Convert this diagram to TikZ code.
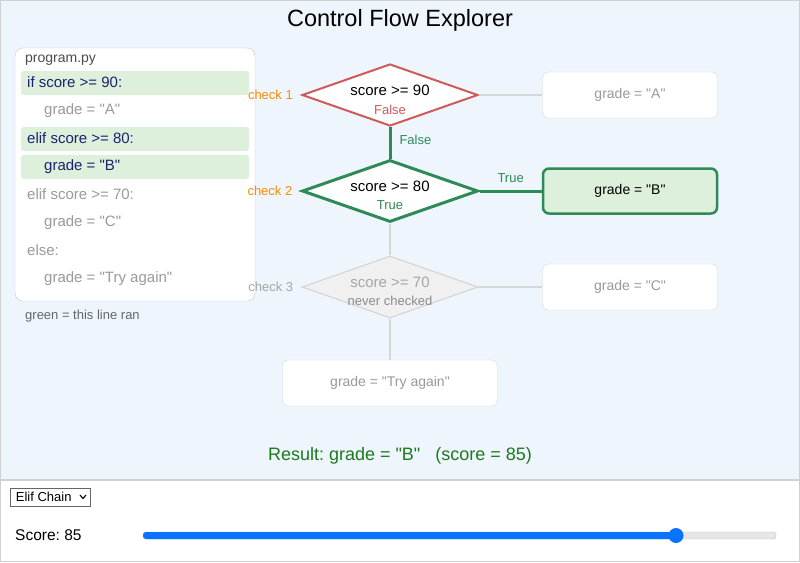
\documentclass[tikz,border=0pt]{standalone}
\usepackage{fontspec}
\newfontfamily\uifont{Liberation Sans}
\usetikzlibrary{shapes.geometric,positioning}
\definecolor{pagebg}{HTML}{EEF5FD}
\definecolor{frameln}{HTML}{D0D0D0}
\definecolor{boxline}{HTML}{D6D6D6}
\definecolor{panelln}{HTML}{C8C8C8}
\definecolor{ranfill}{HTML}{DDF0DC}
\definecolor{navytext}{HTML}{1C226E}
\definecolor{dimtext}{HTML}{9A9A9A}
\definecolor{falsered}{HTML}{D05A5A}
\definecolor{truegreen}{HTML}{2E8B57}
\definecolor{checkorange}{HTML}{FF8C00}
\definecolor{resultgreen}{HTML}{1D7A1D}
\definecolor{sliderblue}{HTML}{0B74FF}
\definecolor{trackgray}{HTML}{E6E6E6}
\newcommand{\fs}[1]{\fontsize{#1}{#1}\selectfont}

\begin{document}
\uifont\frenchspacing
\begin{tikzpicture}[x=1pt,y=-1pt,
  dia/.style={diamond, draw, fill=white, minimum width=176pt, minimum height=62pt, inner sep=0pt},
  outbox/.style={draw=boxline, fill=white, rounded corners=6pt, minimum width=175pt, minimum height=46pt, text=dimtext, font=\fs{14}},
  codeln/.style={anchor=west, inner sep=0pt, font=\fs{15}},
  ranrow/.style={fill=ranfill, rounded corners=3pt},
  chk/.style={inner sep=0pt, font=\fs{13}, text=checkorange},
  dtxt/.style={inner sep=0pt, font=\fs{15}},
  lbl/.style={inner sep=0pt, font=\fs{13}},
  idle/.style={draw=boxline, line width=1.2pt},
  hot/.style={draw=truegreen, line width=3pt}]
\useasboundingbox (0,0) rectangle (800,562);

% page areas
\fill[pagebg] (0,0) rectangle (800,480);
\fill[white] (0,480) rectangle (800,562);
\draw[frameln, line width=2pt] (0,480) -- (800,480);
\draw[frameln] (0.5,0.5) rectangle (799.5,561.5);

\node[font=\fs{23.5}, inner sep=0pt] (title) at (400,20.5) {Control Flow Explorer};

% code panel
\draw[panelln, fill=white, rounded corners=8pt] (15,48) rectangle (255,301);
\node[anchor=west, inner sep=0pt, font=\fs{14}, text=black!70] (fname) at (25,60.5) {program.py};
\fill[ranrow] (21,71) rectangle (249,95);
\fill[ranrow] (21,127) rectangle (249,151);
\fill[ranrow] (21,155) rectangle (249,179);
\node[codeln, text=navytext] (l1) at (27,82.5) {if score >= 90:};
\node[codeln, text=dimtext] (l2) at (44,111) {grade = "A"};
\node[codeln, text=navytext] (l3) at (27,138.5) {elif score >= 80:};
\node[codeln, text=navytext] (l4) at (44,167) {grade = "B"};
\node[codeln, text=dimtext] (l5) at (27,194) {elif score >= 70:};
\node[codeln, text=dimtext] (l6) at (44,223) {grade = "C"};
\node[codeln, text=dimtext] (l7) at (27,250) {else:};
\node[codeln, text=dimtext] (l8) at (44,279) {grade = "Try again"};
\node[anchor=west, inner sep=0pt, font=\fs{13}, text=black!60] (note) at (25,316.5) {green = this line ran};

% decisions
\node[dia, draw=falsered, line width=2pt] (d1) at (390,95) {};
\node[dia, draw=truegreen, line width=3pt] (d2) at (390,191) {};
\node[dia, draw=boxline, fill=black!6, line width=1.2pt] (d3) at (390,287) {};
\node[dtxt] (q1) at (390,90) {score >= 90};
\node[lbl, text=falsered] (a1) at (390,109.5) {False};
\node[dtxt] (q2) at (390,186) {score >= 80};
\node[lbl, text=truegreen] (a2) at (390,205.5) {True};
\node[dtxt, text=black!35] (q3) at (390,282) {score >= 70};
\node[lbl, text=black!45] (a3) at (390,301) {never checked};
\node[chk, left=8pt of d1] (c1) {check 1};
\node[chk, left=8pt of d2] (c2) {check 2};
\node[chk, left=8pt of d3, text=black!35] (c3) {check 3};

% outcomes
\node[outbox] (ga) at (630,95) {grade = "A"};
\node[outbox, draw=truegreen, line width=2.5pt, fill=ranfill, text=black, minimum width=174pt, minimum height=45pt] (gb) at (630,191) {grade = "B"};
\node[outbox] (gc) at (630,287) {grade = "C"};
\node[outbox, minimum width=215pt] (gtry) at (390,383) {grade = "Try again"};

% connectors
\draw[idle] (d1.east) -- (ga.west);
\draw[idle] (d2.south) -- (d3.north);
\draw[idle] (d3.east) -- (gc.west);
\draw[idle] (d3.south) -- (gtry.north);
\draw[hot] (d1.south) -- node[lbl, text=truegreen, right=8pt, yshift=3pt] {False} (d2.north);
\draw[hot] (d2.east) -- node[lbl, text=truegreen, above=7pt] {True} (gb.west);

\node[font=\fs{18}, text=resultgreen, inner sep=0pt] (result) at (400,456) {Result: grade = "B"\ \ \ (score = 85)};

% controls
\node[draw=black!60, anchor=west, minimum width=80pt, minimum height=18pt, inner sep=0pt, font=\fs{13}] (menu) at (10,497) {\hspace*{-13pt}Elif Chain};
\draw[line width=1.1pt] (80,495) -- (83,498.5) -- (86,495);
\node[anchor=west, inner sep=0pt, font=\fs{15.5}] (scorelbl) at (15,535.5) {Score: 85};
\draw[fill=trackgray, draw=black!25, rounded corners=3pt] (143,532) rectangle (776,539);
\fill[sliderblue, rounded corners=3pt] (143,532) rectangle (676,539);
\node[circle, fill=sliderblue, minimum size=15pt, inner sep=0pt] (thumb) at (676,535.5) {};
\end{tikzpicture}
\end{document}
